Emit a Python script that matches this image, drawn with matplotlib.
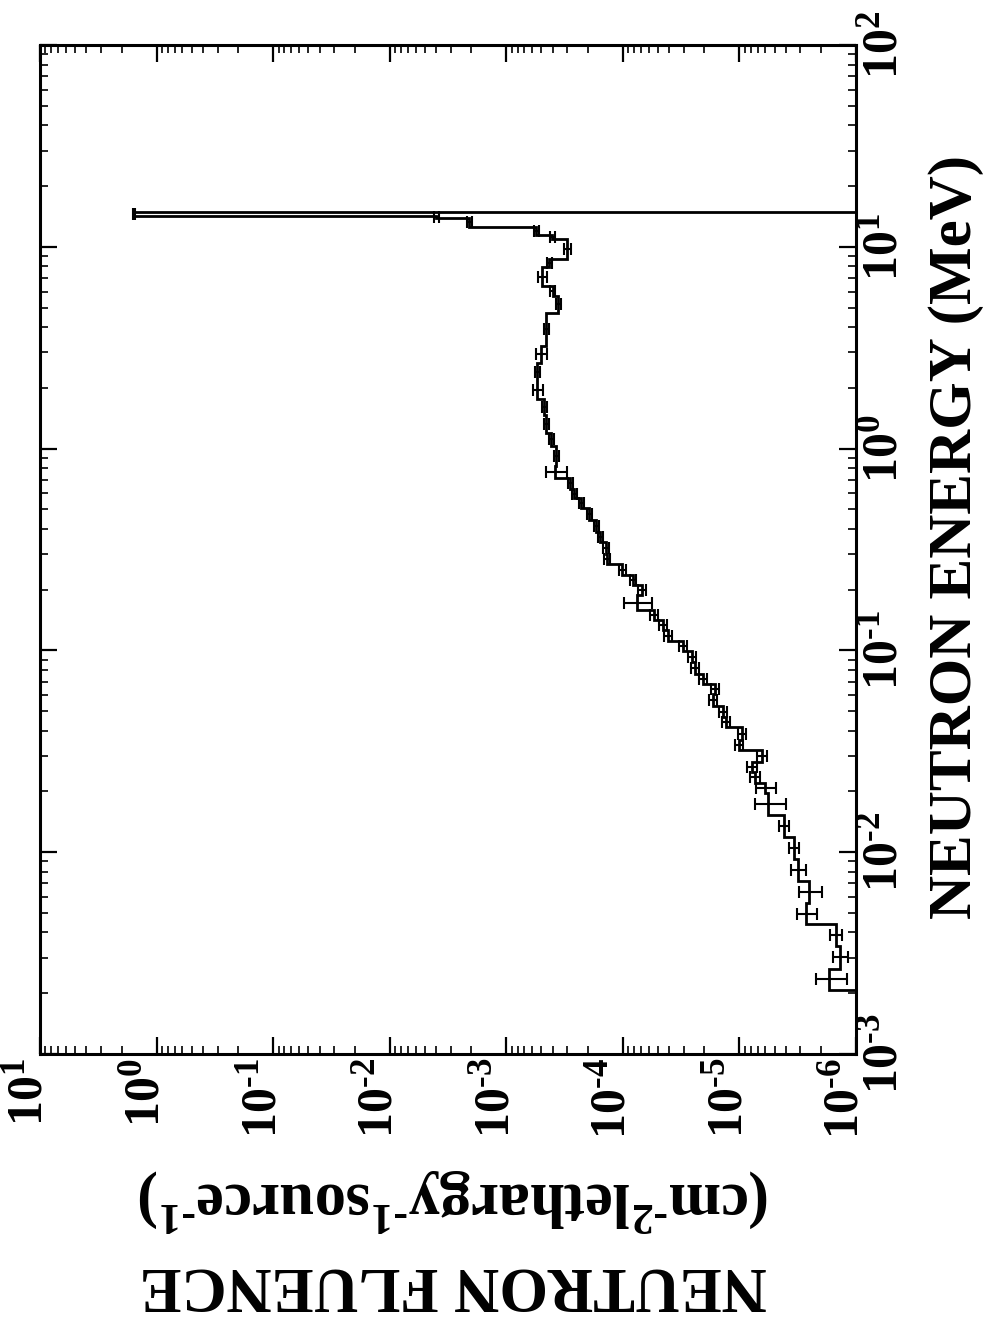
import numpy as np
import matplotlib
matplotlib.use("Agg")
import matplotlib.pyplot as plt
import matplotlib.transforms as mtransforms
from matplotlib.ticker import LogLocator, NullFormatter, FuncFormatter

plt.rcParams.update({
    "font.family": "Liberation Serif",
    "font.weight": "bold",
    "mathtext.fontset": "custom",
    "mathtext.rm": "Liberation Serif:bold",
    "mathtext.it": "Liberation Serif:italic:bold",
    "mathtext.bf": "Liberation Serif:bold",
    "ytick.alignment": "center",
    "axes.linewidth": 2.2,
})

# bin edges in MeV (measured bins only, low to high)
edges_mev = [2.08e-3, 2.65e-3, 3.41e-3, 4.40e-3, 5.60e-3, 7.22e-3, 9.29e-3,
             1.195e-2, 1.52e-2, 1.96e-2, 2.20e-2, 2.50e-2, 2.80e-2, 3.22e-2,
             3.61e-2, 4.15e-2, 4.67e-2, 5.30e-2, 6.08e-2, 6.82e-2, 7.67e-2,
             8.80e-2, 9.87e-2, 0.111, 0.126, 0.142, 0.159, 0.187, 0.212,
             0.236, 0.268, 0.301, 0.346, 0.388, 0.445, 0.506, 0.568, 0.630,
             0.717, 0.823, 1.03, 1.20, 1.46, 1.77, 2.13, 2.67, 3.24, 4.72,
             5.72, 6.42, 7.90, 8.72, 10.96, 11.38, 12.6, 13.9, 14.2, 14.9]

# neutron fluence per bin (cm^-2 lethargy^-1 source^-1)
fluence = [1.71e-6, 1.37e-6, 1.49e-6, 2.69e-6, 2.53e-6, 3.15e-6, 3.41e-6,
           4.16e-6, 5.71e-6, 6.06e-6, 7.38e-6, 7.84e-6, 6.43e-6, 1.01e-5,
           9.55e-6, 1.31e-5, 1.39e-5, 1.70e-5, 1.63e-5, 2.07e-5, 2.42e-5,
           2.57e-5, 3.07e-5, 4.13e-5, 4.56e-5, 5.46e-5, 7.64e-5, 6.92e-5,
           8.27e-5, 1.01e-4, 1.38e-4, 1.41e-4, 1.56e-4, 1.69e-4, 1.94e-4,
           2.27e-4, 2.61e-4, 2.82e-4, 3.80e-4, 3.72e-4, 4.11e-4, 4.54e-4,
           4.72e-4, 5.42e-4, 5.42e-4, 5.01e-4, 4.54e-4, 3.60e-4, 4.00e-4,
           4.91e-4, 4.27e-4, 2.99e-4, 4.02e-4, 5.53e-4, 2.08e-3, 4.0e-3,
           1.55]

# relative statistical error per bin
rel_err = [0.30, 0.15, 0.12, 0.20, 0.22, 0.14, 0.10,
           0.10, 0.30, 0.20, 0.10, 0.10, 0.10, 0.08,
           0.08, 0.08, 0.08, 0.08, 0.08, 0.08, 0.08,
           0.08, 0.08, 0.08, 0.08, 0.08, 0.27, 0.08,
           0.06, 0.06, 0.06, 0.06, 0.05, 0.05, 0.05,
           0.05, 0.05, 0.05, 0.20, 0.05, 0.05, 0.05,
           0.05, 0.10, 0.05, 0.10, 0.05, 0.05, 0.05,
           0.08, 0.05, 0.06, 0.05, 0.05, 0.05, 0.05,
           0.02]

# empty bins outside the measured range (no fluence)
e_min, e_max = 1e-3, 1e2
off_scale = 1e-9

edges_full = [e_min] + edges_mev + [e_max]
values_full = [off_scale] + fluence + [off_scale]

fig = plt.figure(figsize=(9.86, 13.39), dpi=100)
ax = fig.add_axes([0.0406, 0.2129, 0.8276, 0.7535])

ax.stairs(values_full, edges_full, orientation="horizontal", baseline=None,
          color="black", linewidth=2.0)

lo = np.array(edges_mev[:-1])
hi = np.array(edges_mev[1:])
centers = np.sqrt(lo * hi)
f = np.array(fluence)
err = f * np.array(rel_err)
ax.errorbar(f, centers, xerr=[err, err], fmt="none", ecolor="black",
            elinewidth=1.5, capsize=4, capthick=1.5)

ax.set_xscale("log")
ax.set_yscale("log")
ax.set_xlim(10, 1e-6)
ax.set_ylim(e_min, e_max)


def pow_label(v, pos):
    n = int(round(np.log10(v)))
    if n < 0:
        return r"$10^{\text{-}%d}$" % (-n)
    return r"$10^{%d}$" % n


fmt = FuncFormatter(pow_label)
for axis in (ax.xaxis, ax.yaxis):
    axis.set_major_locator(LogLocator(base=10, numticks=20))
    axis.set_minor_locator(LogLocator(base=10, subs=np.arange(2, 10), numticks=100))
    axis.set_minor_formatter(NullFormatter())
    axis.set_major_formatter(fmt)

ax.tick_params(which="both", direction="in", top=True, bottom=True,
               left=True, right=True, labelleft=False, labelright=True,
               labelbottom=True)
ax.tick_params(which="major", length=12, width=1.6)
ax.tick_params(which="minor", length=6, width=1.2)
ax.tick_params(axis="x", labelrotation=90, labelsize=36, pad=3)
ax.tick_params(axis="y", labelrotation=90, labelsize=36, pad=4)

# fluence labels sit a little left of their ticks
shift = mtransforms.ScaledTranslation(-10 / 100, 0, fig.dpi_scale_trans)
for lab in ax.get_xticklabels():
    lab.set_transform(lab.get_transform() + shift)

ax.yaxis.set_label_position("right")
ax.set_ylabel("NEUTRON ENERGY (MeV)", fontsize=44, fontweight="bold")
ax.yaxis.set_label_coords(1.122, 0.512)
ax.yaxis.label.set_va("center")

ax.set_xlabel("NEUTRON FLUENCE\n(cm$^{\\text{-}2}$lethargy$^{\\text{-}1}$source$^{\\text{-}1}$)",
              fontsize=45, fontweight="bold", rotation=180, linespacing=1.4)
ax.xaxis.set_label_coords(0.507, -0.184)
ax.xaxis.label.set_rotation_mode("anchor")
ax.xaxis.label.set_va("center")
ax.xaxis.label.set_ha("center")
ax.xaxis.label.set_multialignment("center")

fig.savefig("out.png", dpi=100)
